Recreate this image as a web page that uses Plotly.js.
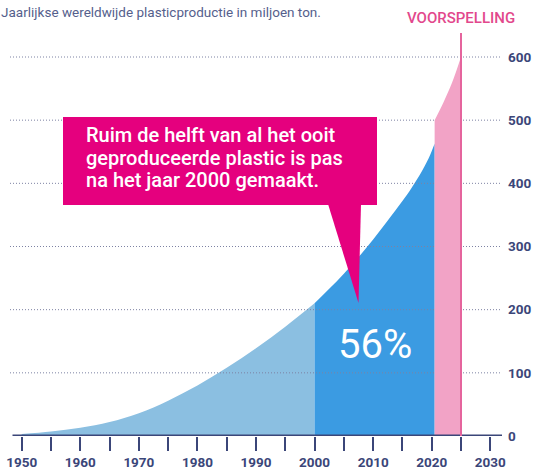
<!DOCTYPE html>
<html>
<head>
<meta charset="utf-8">
<script src="https://cdn.plot.ly/plotly-3.0.1.min.js"></script>
<style>html,body{margin:0;padding:0;background:#fff;}#chart{width:535px;height:470px;}</style>
</head>
<body>
<div id="chart"></div>
<script>
// ---- data ----
const yearsPast = [1950, 1955, 1960, 1965, 1970, 1975, 1980, 1985, 1990, 1995, 2000];
const productionPast = [3, 7, 13, 22, 36, 56, 80, 108, 139, 173, 210];

const yearsRecent = [2000, 2002.5, 2005, 2007.5, 2010, 2012.5, 2015, 2016.5, 2018, 2019.5, 2020.5];
const productionRecent = [210, 233, 257, 283, 311, 341, 372, 392, 414, 440, 463];

const yearsForecast = [2020.5, 2022, 2023.5, 2025];
const productionForecast = [500, 528, 560, 600];

const forecastYear = 2025;
const xTickVals = [1950, 1960, 1970, 1980, 1990, 2000, 2010, 2020, 2030];
const xTickText = ['1950', '1960', '1970', '1980', '1990', '2000', '2010', '2020', '2030'];
const xMinorVals = [1955, 1965, 1975, 1985, 1995, 2005, 2015, 2025];
const yTickVals = [0, 100, 200, 300, 400, 500, 600];
const yTickText = ['0', '100', '200', '300', '400', '500', '600'];

const titleText = 'Jaarlijkse wereldwijde plasticproductie in miljoen ton.';
const forecastLabel = 'VOORSPELLING';
const calloutLines = ['Ruim de helft van al het ooit', 'geproduceerde plastic is pas', 'na het jaar 2000 gemaakt.'];
const shareText = '56%';

// ---- layout geometry ----
const W = 535, H = 470;
const M = {l: 10, r: 33, t: 33, b: 34};
const xRange = [1948, 2032];
const yRange = [0, 638];
const pw = W - M.l - M.r, ph = H - M.t - M.b;
const px = v => (v - M.l) / pw;          // pixel -> paper x
const py = v => (H - M.b - v) / ph;      // pixel -> paper y

const navy = '#3b4679';
const gridColor = '#7d82a3';
const FONT = 'Roboto, sans-serif';

// gridlines as one trace (drawn above blue fills, below pink forecast)
const gx = [], gy = [];
yTickVals.filter(v => v > 0).forEach(v => { gx.push(xRange[0], xRange[1], null); gy.push(v, v, null); });

const traces = [
  {x: yearsPast, y: productionPast, type: 'scatter', mode: 'lines', fill: 'tozeroy',
   line: {width: 0, shape: 'spline', smoothing: 1, color: '#8bbfe1'}, fillcolor: '#8bbfe1', hoverinfo: 'skip'},
  {x: yearsRecent, y: productionRecent, type: 'scatter', mode: 'lines', fill: 'tozeroy',
   line: {width: 0, shape: 'spline', smoothing: 1, color: '#3b9be2'}, fillcolor: '#3b9be2', hoverinfo: 'skip'},
  {x: gx, y: gy, type: 'scatter', mode: 'lines', line: {color: gridColor, width: 1, dash: '1px,2px'}, hoverinfo: 'skip'},
  {x: yearsForecast, y: productionForecast, type: 'scatter', mode: 'lines', fill: 'tozeroy',
   line: {width: 0, shape: 'spline', smoothing: 1, color: '#f2a3c6'}, fillcolor: '#f2a3c6', hoverinfo: 'skip'}
];

const lineCenters = [135, 158, 180];
const calloutAnnotations = calloutLines.map((t, i) => ({
  text: t, xref: 'paper', yref: 'paper', x: px(84), y: py(lineCenters[i]), xanchor: 'left', yanchor: 'middle',
  align: 'left', showarrow: false, font: {family: FONT, size: 20, color: '#ffffff', weight: 500}
}));

const layout = {
  width: W, height: H,
  margin: M,
  paper_bgcolor: '#ffffff', plot_bgcolor: '#ffffff',
  showlegend: false,
  font: {family: FONT, color: navy},
  title: {text: titleText, x: 0.002, xref: 'container', xanchor: 'left',
          y: 1 - 12 / H, yref: 'container', yanchor: 'middle',
          font: {family: FONT, size: 13.5, color: '#55608c', weight: 400}},
  xaxis: {
    range: xRange, showgrid: false, zeroline: false, showline: false,
    tickmode: 'array', tickvals: xTickVals, ticktext: xTickText,
    ticks: 'outside', ticklen: 14, tickwidth: 2, tickcolor: navy,
    ticklabelstandoff: 0,
    tickfont: {family: FONT, size: 13.5, color: navy, weight: 700},
    minor: {tickmode: 'array', tickvals: xMinorVals, ticks: 'outside', ticklen: 14, tickwidth: 2, tickcolor: navy, showgrid: false}
  },
  yaxis: {
    range: yRange, side: 'right', showgrid: false, zeroline: false, showline: false,
    tickmode: 'array', tickvals: yTickVals, ticktext: yTickText, ticks: '',
    ticklabelstandoff: 5,
    tickfont: {family: FONT, size: 13.5, color: navy, weight: 700}
  },
  shapes: [
    // x axis line
    {type: 'line', xref: 'paper', yref: 'y', x0: px(12.5), x1: px(502), y0: 0, y1: 0,
     line: {color: navy, width: 3}, layer: 'above'},
    // forecast divider
    {type: 'line', xref: 'x', yref: 'paper', x0: forecastYear, x1: forecastYear, y0: 0, y1: 1,
     line: {color: '#e5649d', width: 2}, layer: 'above'},
    // callout box
    {type: 'rect', xref: 'paper', yref: 'paper', x0: px(63), x1: px(377), y0: py(205), y1: py(117),
     fillcolor: '#e5007e', line: {width: 0}, layer: 'above'},
    // callout pointer
    {type: 'path', xref: 'paper', yref: 'paper',
     path: `M ${px(328)} ${py(204)} L ${px(361)} ${py(204)} L ${px(358.5)} ${py(303)} Z`,
     fillcolor: '#e5007e', line: {width: 0}, layer: 'above'}
  ],
  annotations: [
    {text: forecastLabel, xref: 'x', yref: 'paper', x: forecastYear, y: py(18), xanchor: 'center', yanchor: 'middle',
     showarrow: false, font: {family: FONT, size: 15, color: '#e2488c', weight: 500}},
    ...calloutAnnotations,
    {text: shareText, xref: 'paper', yref: 'paper', x: px(375), y: py(344), xanchor: 'center', yanchor: 'middle',
     showarrow: false, font: {family: FONT, size: 40, color: '#ffffff'}}
  ]
};

Plotly.newPlot('chart', traces, layout, {staticPlot: true, displayModeBar: false});
</script>
</body>
</html>
